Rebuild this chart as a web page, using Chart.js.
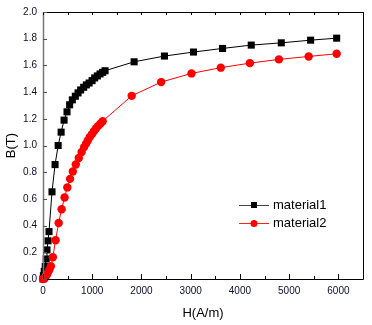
<!DOCTYPE html>
<html>
<head>
<meta charset="utf-8">
<script src="https://cdn.jsdelivr.net/npm/chart.js@4.4.1/dist/chart.umd.min.js"></script>
<style>
html,body{margin:0;padding:0;background:#fff;}
#wrap{width:372px;height:325px;}
</style>
</head>
<body>
<div id="wrap"><canvas id="c" width="372" height="325"></canvas></div>
<script>
// ---- data ----
const seriesNames = ['material1', 'material2'];
const h1 = [0, 8, 25, 45, 65, 81, 102, 122, 183, 245, 308, 368, 428, 488, 541, 596, 657, 712, 765, 826, 881, 936, 997, 1050, 1104, 1159, 1212, 1261, 1851, 2467, 3057, 3647, 4230, 4840, 5436, 5965];
const b1 = [0, 0.025, 0.057, 0.094, 0.15, 0.218, 0.286, 0.355, 0.653, 0.857, 1.0, 1.10, 1.19, 1.252, 1.305, 1.342, 1.369, 1.394, 1.416, 1.436, 1.454, 1.468, 1.486, 1.506, 1.521, 1.536, 1.548, 1.56, 1.627, 1.67, 1.70, 1.727, 1.752, 1.769, 1.789, 1.804];
const h2 = [0, 35, 60, 90, 125, 160, 200, 256, 318, 378, 438, 494, 550, 605, 666, 727, 785, 835, 875, 910, 950, 995, 1037, 1077, 1118, 1165, 1212, 1802, 2400, 3016, 3612, 4202, 4792, 5396, 5965];
const b2 = [0, 0.005, 0.02, 0.04, 0.065, 0.095, 0.163, 0.29, 0.42, 0.522, 0.611, 0.686, 0.75, 0.805, 0.858, 0.907, 0.952, 0.988, 1.014, 1.038, 1.063, 1.085, 1.108, 1.128, 1.145, 1.163, 1.182, 1.372, 1.475, 1.540, 1.583, 1.617, 1.645, 1.667, 1.687];
const xTickValues = [0, 1000, 2000, 3000, 4000, 5000, 6000];
const xMinorStep = 500;
const yTickLabels = ['0.0','0.2','0.4','0.6','0.8','1.0','1.2','1.4','1.6','1.8','2.0'];
const xTitle = 'H(A/m)';
const yTitle = 'B(T)';

const pts = (xs, ys) => xs.map((x, i) => ({x: x, y: ys[i]}));
const tickColor = '#0d0d2e';
const FONT = 'Arial, "Liberation Sans", Helvetica, sans-serif';

const framePlugin = {
  id: 'frame',
  afterDraw(chart) {
    const ctx = chart.ctx;
    const xs = chart.scales.x, ys = chart.scales.y;
    const {left, right, top, bottom} = chart.chartArea;
    ctx.save();
    ctx.lineWidth = 1;
    // frame
    ctx.strokeStyle = '#000';
    ctx.beginPath();
    ctx.moveTo(left, bottom + 0.5); ctx.lineTo(right + 0.5, bottom + 0.5);
    ctx.lineTo(right + 0.5, top + 0.5); ctx.lineTo(left, top + 0.5);
    ctx.stroke();
    ctx.strokeStyle = '#777';
    ctx.lineWidth = 1.5;
    ctx.beginPath();
    ctx.moveTo(left + 0.5, top); ctx.lineTo(left + 0.5, bottom + 1);
    ctx.stroke();
    // x ticks (inward)
    ctx.lineWidth = 1;
    ctx.strokeStyle = '#000';
    for (let v = xs.min; v <= xs.max + 1e-6; v += xMinorStep) {
      const px = Math.round(xs.getPixelForValue(v)) + 0.5;
      const major = xTickValues.includes(v);
      ctx.beginPath();
      ctx.moveTo(px, bottom); ctx.lineTo(px, bottom - (major ? 5 : 3));
      ctx.moveTo(px, top); ctx.lineTo(px, top + 3);
      ctx.stroke();
    }
    // y ticks (inward, left)
    ctx.strokeStyle = '#555';
    yTickLabels.forEach(lbl => {
      const py = Math.round(ys.getPixelForValue(parseFloat(lbl))) + 0.5;
      ctx.beginPath();
      ctx.moveTo(left, py); ctx.lineTo(left + 4, py);
      ctx.stroke();
    });
    // legend
    const items = [
      {name: seriesNames[0], color: '#000', line: '#444', style: 'rect'},
      {name: seriesNames[1], color: '#ff0000', line: '#ff2020', style: 'circle'}
    ];
    const lx = 239, ly = 205, gap = 18;
    ctx.font = '13px ' + FONT;
    ctx.textBaseline = 'middle';
    ctx.textAlign = 'left';
    items.forEach((it, i) => {
      const y = ly + i * gap;
      ctx.strokeStyle = it.line;
      ctx.lineWidth = 1;
      ctx.beginPath();
      ctx.moveTo(lx, y + 0.5); ctx.lineTo(lx + 30, y + 0.5);
      ctx.stroke();
      ctx.fillStyle = it.color;
      if (it.style === 'rect') {
        ctx.fillRect(lx + 12, y - 3, 6, 6);
      } else {
        ctx.beginPath();
        ctx.arc(lx + 15, y + 0.5, 3.5, 0, Math.PI * 2);
        ctx.fill();
      }
      ctx.fillStyle = '#000';
      ctx.fillText(it.name, lx + 34, y + 0.5);
    });
    ctx.restore();
  }
};

new Chart(document.getElementById('c'), {
  type: 'scatter',
  data: {
    datasets: [
      {
        label: seriesNames[0],
        data: pts(h1, b1),
        showLine: true,
        borderColor: '#000',
        backgroundColor: '#000',
        borderWidth: 1,
        pointStyle: 'rect',
        pointRadius: 5,
        pointBorderWidth: 0,
        pointHoverRadius: 5,
        clip: false,
        order: 1
      },
      {
        label: seriesNames[1],
        data: pts(h2, b2),
        showLine: true,
        borderColor: '#ff0000',
        backgroundColor: '#ff0000',
        borderWidth: 1,
        pointStyle: 'circle',
        pointRadius: 4.2,
        pointBorderWidth: 0,
        pointHoverRadius: 4.2,
        clip: false,
        order: 0
      }
    ]
  },
  options: {
    responsive: false,
    animation: false,
    devicePixelRatio: 1,
    layout: {padding: {top: 11, right: 9, left: 0, bottom: 0}},
    plugins: {legend: {display: false}, tooltip: {enabled: false}},
    scales: {
      x: {
        type: 'linear',
        min: 0, max: 6500,
        grid: {display: false, drawTicks: false},
        border: {display: false},
        afterBuildTicks: s => { s.ticks = xTickValues.map(v => ({value: v})); },
        ticks: {
          padding: 6,
          color: tickColor, font: {size: 10, family: FONT},
          maxRotation: 0, minRotation: 0, autoSkip: false,
          callback: v => String(v)
        },
        title: {display: true, text: xTitle, color: '#000', font: {size: 13, family: FONT}, padding: {top: 4, bottom: 4}},
        afterFit: s => { s.height = 46; }
      },
      y: {
        type: 'linear',
        min: 0, max: 2,
        grid: {display: false, drawTicks: false},
        border: {display: false},
        afterBuildTicks: s => { s.ticks = yTickLabels.map(l => ({value: parseFloat(l)})); },
        ticks: {
          padding: 6,
          color: tickColor, font: {size: 10, family: FONT},
          autoSkip: false,
          callback: (v, i) => yTickLabels[i]
        },
        title: {display: true, text: yTitle, color: '#000', font: {size: 13, family: FONT}, padding: {top: 4, bottom: 4}},
        afterFit: s => { s.width = 43; }
      }
    }
  },
  plugins: [framePlugin]
});
</script>
</body>
</html>
